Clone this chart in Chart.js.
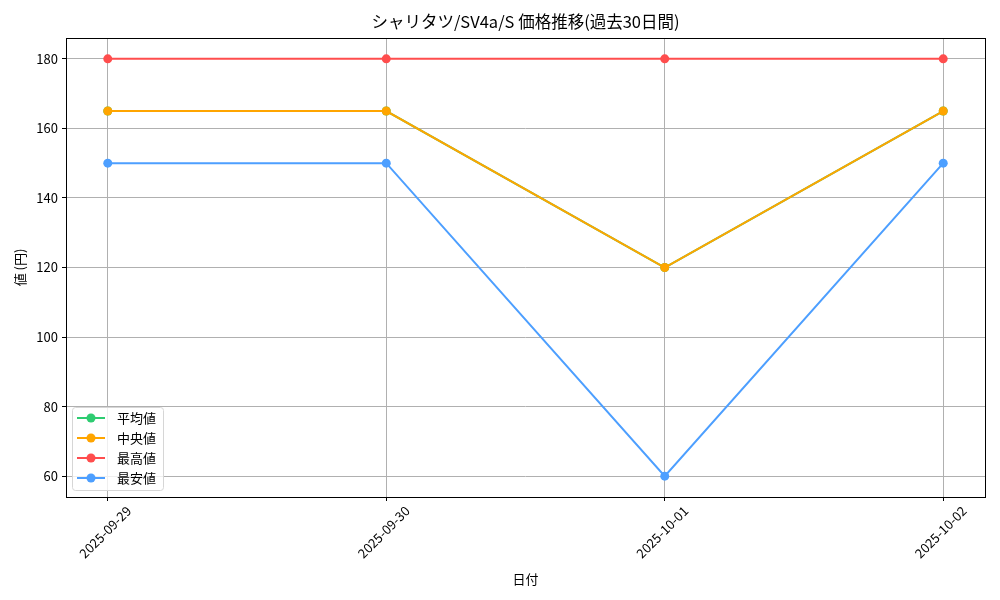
<!DOCTYPE html>
<html><head><meta charset="utf-8">
<script src="https://cdn.jsdelivr.net/npm/chart.js@4/dist/chart.umd.min.js"></script>
<style>html,body{margin:0;padding:0;background:#fff}#c{display:block}</style>
</head><body>
<canvas id="c" width="1000" height="600"></canvas>
<script>
const chartTitle = 'シャリタツ/SV4a/S 価格推移(過去30日間)';
const dates = ['2025-09-29','2025-09-30','2025-10-01','2025-10-02'];
const meanValues = [165,165,120,165];
const medianValues = [165,165,120,165];
const maxValues = [180,180,180,180];
const minValues = [150,150,60,150];
const yTicks = [60,80,100,120,140,160,180];
const seriesNames = ['平均値','中央値','最高値','最安値'];
const seriesColors = ['#2ecc71','#ffa500','#ff4d4d','#4d9fff'];
const FONT = '"Noto Sans CJK JP", "DejaVu Sans", sans-serif';

const toPts = arr => arr.map((v,i)=>({x:i,y:v}));
const allSeries = [meanValues, medianValues, maxValues, minValues];
const datasets = allSeries.map((arr,i)=>({
  label: seriesNames[i], data: toPts(arr),
  borderColor: seriesColors[i], backgroundColor: seriesColors[i],
  borderWidth: 2, pointRadius: 4.5, pointHoverRadius: 4.5, pointBorderWidth: 0,
  tension: 0, order: 3 - i
}));

const framePlugin = {
  id: 'frame',
  afterDraw(chart){
    const {ctx, chartArea:a} = chart;
    ctx.save();
    ctx.strokeStyle = '#000'; ctx.lineWidth = 1;
    ctx.strokeRect(Math.round(a.left)+0.5, Math.round(a.top)+0.5, Math.round(a.right-a.left), Math.round(a.bottom-a.top));
    // title centred over the axes
    ctx.fillStyle = '#000'; ctx.font = '16.5px ' + FONT;
    ctx.textAlign = 'center'; ctx.textBaseline = 'middle';
    ctx.fillText(chartTitle, (a.left + a.right)/2, 22);
    // legend inside lower-left
    const x0 = a.left + 6, y0 = a.bottom - 90, w = 91, h = 83, r = 3;
    ctx.globalAlpha = 0.8;
    ctx.fillStyle = '#fff';
    ctx.beginPath(); ctx.roundRect(x0+0.5, y0+0.5, w, h, r); ctx.fill();
    ctx.globalAlpha = 1;
    ctx.strokeStyle = '#d6d6d6'; ctx.lineWidth = 1; ctx.stroke();
    ctx.font = '13px ' + FONT; ctx.textBaseline = 'middle'; ctx.textAlign = 'left';
    chart.data.datasets.forEach((ds,i)=>{
      const yy = y0 + 11 + i*20;
      ctx.strokeStyle = ds.borderColor; ctx.lineWidth = 2;
      ctx.beginPath(); ctx.moveTo(x0+5, yy); ctx.lineTo(x0+33, yy); ctx.stroke();
      ctx.fillStyle = ds.borderColor;
      ctx.beginPath(); ctx.arc(x0+19, yy, 4.5, 0, Math.PI*2); ctx.fill();
      ctx.fillStyle = '#000';
      ctx.fillText(ds.label, x0+45, yy);
    });
    ctx.restore();
  }
};

new Chart(document.getElementById('c'), {
  type: 'line',
  data: { datasets },
  options: {
    responsive: false, animation: false, devicePixelRatio: 1,
    layout: { padding: { left: 0, right: 15, top: 38, bottom: 0 } },
    plugins: {
      legend: { display: false }, tooltip: { enabled: false }, title: { display: false }
    },
    scales: {
      x: {
        type: 'linear', min: -0.15, max: 3.15,
        afterBuildTicks(s){ s.ticks = dates.map((d,i)=>({value:i})); },
        afterFit(s){ s.height = 103; },
        ticks: { callback: v => dates[v] ?? '', color: '#000', font: { family: FONT, size: 13 },
          minRotation: 45, maxRotation: 45, autoSkip: false, labelOffset: 21, padding: 2 },
        grid: { color: '#b0b0b0', lineWidth: 1, tickColor: '#000', tickLength: 4, drawTicks: true },
        border: { display: false },
        title: { display: true, text: '日付', color: '#000', font: { family: FONT, size: 13 }, padding: { top: 0, bottom: 13 } }
      },
      y: {
        min: 54, max: 186,
        afterBuildTicks(s){ s.ticks = yTicks.map(v=>({value:v})); },
        afterFit(s){ s.width = 66; },
        ticks: { color: '#000', font: { family: FONT, size: 13 }, padding: 4 },
        grid: { color: '#b0b0b0', lineWidth: 1, tickColor: '#000', tickLength: 4 },
        border: { display: false },
        title: { display: true, text: '値 (円)', color: '#000', font: { family: FONT, size: 13 }, padding: { top: 12, bottom: 0 } }
      }
    }
  },
  plugins: [framePlugin]
});
</script>
</body></html>
